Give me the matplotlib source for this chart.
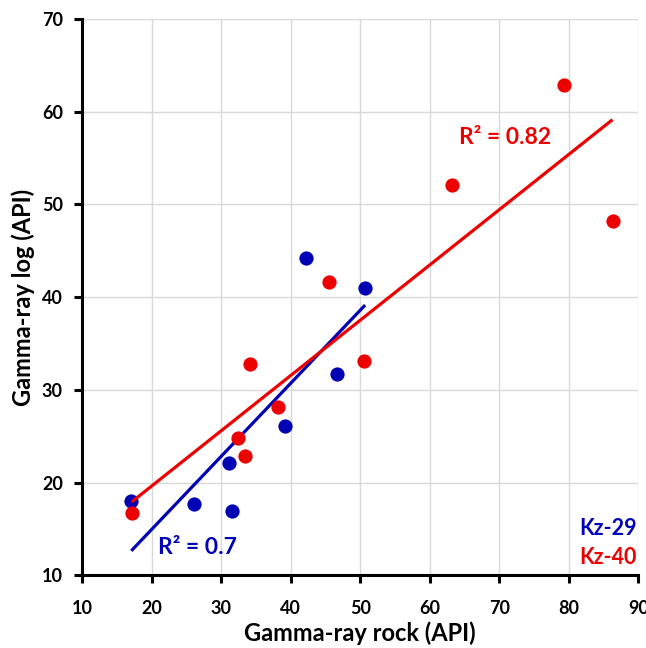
import numpy as np
import matplotlib
matplotlib.use("Agg")
import matplotlib.pyplot as plt

plt.rcParams['font.family'] = ['Lato', 'DejaVu Sans']

# Kz-29 (blue)
kz29_rock = [42.2, 50.7, 46.7, 39.2, 31.1, 26.1, 31.6, 17.05]
kz29_log = [44.2, 41.0, 31.75, 26.15, 22.15, 17.7, 16.95, 18.0]
# Kz-40 (red)
kz40_rock = [79.35, 86.3, 63.2, 45.45, 50.6, 34.1, 38.1, 32.45, 33.4, 17.1]
kz40_log = [62.9, 48.25, 52.05, 41.65, 33.1, 32.75, 28.1, 24.85, 22.9, 16.7]

x_ticks = [10, 20, 30, 40, 50, 60, 70, 80, 90]
y_ticks = [10, 20, 30, 40, 50, 60, 70]

BLUE = '#0000b4'
RED = '#ec0000'

fig = plt.figure(figsize=(6.46, 6.48), dpi=100)
ax = fig.add_axes([0.1274, 0.1122, 0.8606, 0.8585])

def fit_line(x, y):
    x = np.asarray(x); y = np.asarray(y)
    m, b = np.polyfit(x, y, 1)
    xs = np.array([x.min(), x.max()])
    return xs, m * xs + b

ax.scatter(kz29_rock, kz29_log, s=105, color=BLUE, zorder=3, linewidths=0)
xs, ys = fit_line(kz29_rock, kz29_log)
ax.plot(xs, ys, color=BLUE, lw=2.3, zorder=4, solid_capstyle='butt')
ax.scatter(kz40_rock, kz40_log, s=105, color=RED, zorder=5, linewidths=0)
xs, ys = fit_line(kz40_rock, kz40_log)
ax.plot(xs, ys, color=RED, lw=2.3, zorder=6, solid_capstyle='butt')

ax.set_xlim(10, 90)
ax.set_ylim(10, 70)
ax.set_xticks(x_ticks)
ax.set_yticks(y_ticks)
ax.grid(True, color='#d9d9d9', lw=1.0, zorder=0)
ax.set_axisbelow(True)

for s in ['top', 'right']:
    ax.spines[s].set_visible(False)
for s in ['left', 'bottom']:
    ax.spines[s].set_linewidth(2.2)
    ax.spines[s].set_color('black')
ax.tick_params(axis='x', direction='out', length=6, width=2.2, labelsize=13, pad=12)
ax.tick_params(axis='y', direction='out', length=6, width=2.2, labelsize=13, pad=8)
for lbl in ax.get_xticklabels() + ax.get_yticklabels():
    lbl.set_fontweight('bold')

ax.set_xlabel('Gamma-ray rock (API)', fontsize=17, fontweight='bold', labelpad=3)
ax.set_ylabel('Gamma-ray log (API)', fontsize=17, fontweight='bold', labelpad=5)

ax.text(70.8, 57.2, 'R² = 0.82', color=RED, fontsize=16.5, fontweight='bold',
        ha='center', va='center')
ax.text(26.6, 13.0, 'R² = 0.7', color=BLUE, fontsize=16.5, fontweight='bold',
        ha='center', va='center')
ax.text(89.8, 15.0, 'Kz-29', color=BLUE, fontsize=15.5, fontweight='bold', ha='right', va='center')
ax.text(89.8, 11.9, 'Kz-40', color=RED, fontsize=15.5, fontweight='bold', ha='right', va='center')

fig.savefig('out.png', dpi=100)
